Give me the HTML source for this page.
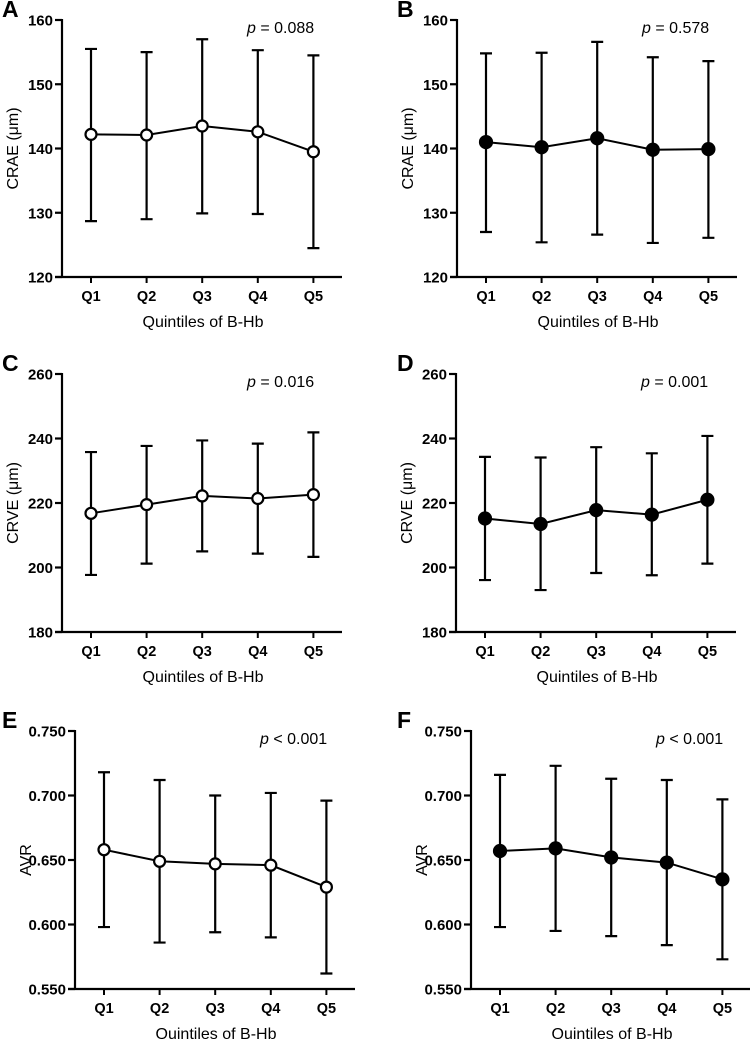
<!DOCTYPE html>
<html><head><meta charset="utf-8"><style>
html,body{margin:0;padding:0;background:#fff;}
svg{display:block;font-family:"Liberation Sans",Arial,sans-serif;}
</style></head><body>
<svg id="fig" width="750" height="1039" viewBox="0 0 750 1039" xmlns="http://www.w3.org/2000/svg"></svg>
<script>
const categories = ["Q1","Q2","Q3","Q4","Q5"];
const meanA = [142.2,142.1,143.5,142.6,139.5];
const hiA = [155.5,155.0,157.0,155.3,154.5];
const loA = [128.7,129.0,129.9,129.8,124.5];
const meanB = [141.0,140.2,141.6,139.8,139.9];
const hiB = [154.8,154.9,156.6,154.2,153.6];
const loB = [127.0,125.4,126.6,125.3,126.1];
const meanC = [216.8,219.5,222.2,221.4,222.6];
const hiC = [235.8,237.7,239.4,238.4,241.9];
const loC = [197.7,201.2,205.0,204.3,203.3];
const meanD = [215.2,213.5,217.8,216.4,221.0];
const hiD = [234.3,234.1,237.3,235.4,240.8];
const loD = [196.1,193.0,198.3,197.6,201.2];
const meanE = [0.658,0.649,0.647,0.646,0.629];
const hiE = [0.718,0.712,0.700,0.702,0.696];
const loE = [0.598,0.586,0.594,0.590,0.562];
const meanF = [0.657,0.659,0.652,0.648,0.635];
const hiF = [0.716,0.723,0.713,0.712,0.697];
const loF = [0.598,0.595,0.591,0.584,0.573];
const ticksCRAE = [120,130,140,150,160];
const ticksCRVE = [180,200,220,240,260];
const ticksAVR = [0.550,0.600,0.650,0.700,0.750];

const NS="http://www.w3.org/2000/svg";
const svg=document.getElementById('fig');
function mk(tag,attrs,parent){const e=document.createElementNS(NS,tag);for(const k in attrs)e.setAttribute(k,attrs[k]);(parent||svg).appendChild(e);return e;}

const panels=[
 {id:'a',letter:'A',lx:2,ax:62,top:20,bot:277,mean:meanA,hi:hiA,lo:loA,ticks:ticksCRAE,dec:0,title:'CRAE (μm)',p:'= 0.088',open:true},
 {id:'b',letter:'B',lx:397,ax:457,top:20,bot:277,mean:meanB,hi:hiB,lo:loB,ticks:ticksCRAE,dec:0,title:'CRAE (μm)',p:'= 0.578',open:false},
 {id:'c',letter:'C',lx:2,ax:62,top:374,bot:632,mean:meanC,hi:hiC,lo:loC,ticks:ticksCRVE,dec:0,title:'CRVE (μm)',p:'= 0.016',open:true},
 {id:'d',letter:'D',lx:397,ax:456,top:374,bot:632,mean:meanD,hi:hiD,lo:loD,ticks:ticksCRVE,dec:0,title:'CRVE (μm)',p:'= 0.001',open:false},
 {id:'e',letter:'E',lx:2,ax:75,top:731,bot:989,mean:meanE,hi:hiE,lo:loE,ticks:ticksAVR,dec:3,title:'AVR',p:'< 0.001',open:true},
 {id:'f',letter:'F',lx:397,ax:471,top:731,bot:989,mean:meanF,hi:hiF,lo:loF,ticks:ticksAVR,dec:3,title:'AVR',p:'< 0.001',open:false}
];

panels.forEach(P=>{
  const g=mk('g',{});
  
  
  const axX=P.ax, top=P.top, bot=P.bot, right=axX+280;
  const ymin=P.ticks[0], ymax=P.ticks[P.ticks.length-1];
  const y=v=>bot-(v-ymin)/(ymax-ymin)*(bot-top);
  const x=i=>axX+29+i*55.6;
  const lt=mk('text',{x:P.lx,y:top-3,'font-size':23,'font-weight':'bold',fill:'#000'},g);lt.textContent=P.letter;
  
  
  const ya=mk('line',{x1:axX,y1:top-1,x2:axX,y2:bot+1,stroke:'#000','stroke-width':2.2},g);
  
  
  const xa=mk('line',{x1:axX-7,y1:bot,x2:right,y2:bot,stroke:'#000','stroke-width':2.2},g);
  
  
  P.ticks.forEach(t=>{
    mk('line',{x1:axX-7,y1:y(t),x2:axX,y2:y(t),stroke:'#000','stroke-width':2.2},g);
    const tx=mk('text',{x:axX-9,y:y(t)+5.5,'font-size':15,'font-weight':'bold','text-anchor':'end'},g);
    tx.textContent=t.toFixed(P.dec);
    
    
  });
  categories.forEach((c,i)=>{
    mk('line',{x1:x(i),y1:bot,x2:x(i),y2:bot+6,stroke:'#000','stroke-width':2},g);
    const tx=mk('text',{x:x(i),y:bot+24,'font-size':14.5,'font-weight':'bold','text-anchor':'middle'},g);
    tx.textContent=c;
    
    
  });
  const xt=mk('text',{x:axX+141,y:bot+50,'font-size':16,'text-anchor':'middle'},g);xt.textContent='Quintiles of B-Hb';
  
  
  const yt=mk('text',{x:0,y:0,'font-size':16,'text-anchor':'middle',transform:`translate(${axX-44},${(top+bot)/2}) rotate(-90)`},g);yt.textContent=P.title;
  
  
  const pt=mk('text',{x:axX+185,y:top+13,'font-size':16},g);
  pt.innerHTML='<tspan font-style="italic">p</tspan> '+P.p.replace('<','&lt;');
  
  
  categories.forEach((c,i)=>{
    const eb=mk('path',{d:`M${x(i)},${y(P.hi[i])}V${y(P.lo[i])}M${x(i)-6},${y(P.hi[i])}H${x(i)+6}M${x(i)-6},${y(P.lo[i])}H${x(i)+6}`,stroke:'#000','stroke-width':2.2,fill:'none'},g);
    
    
  });
  const ln=mk('polyline',{points:P.mean.map((v,i)=>x(i)+','+y(v)).join(' '),stroke:'#000','stroke-width':2,fill:'none'},g);
  
  
  P.mean.forEach((v,i)=>{
    const m=mk('circle',{cx:x(i),cy:y(v),r:P.open?5.5:6,fill:P.open?'#fff':'#000',stroke:'#000','stroke-width':2.2},g);
    
    
  });
});
</script>
</body></html>
